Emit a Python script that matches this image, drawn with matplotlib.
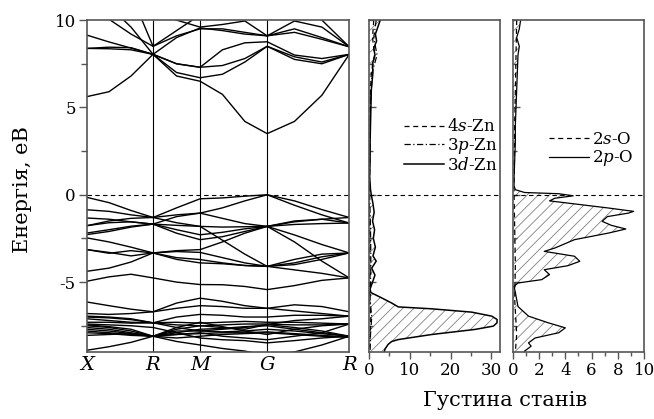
import matplotlib

matplotlib.use("Agg")
import matplotlib.pyplot as plt
from matplotlib.ticker import MultipleLocator

plt.rcParams["font.family"] = "DejaVu Serif"
plt.rcParams["mathtext.fontset"] = "dejavuserif"
plt.rcParams["hatch.linewidth"] = 0.6

# --- band structure -------------------------------------------------------
# cumulative k-path distance of the sampled points, X-R-M-G-R
k_path = [0.0, 0.22, 0.44, 0.66, 0.895, 1.13, 1.353, 1.577, 1.80, 2.073, 2.347, 2.62]
k_labels = ["X", "R", "M", "G", "R"]
k_label_idx = [0, 3, 5, 8, 11]

# conduction bands, eV
cond_bands = [
    [5.62, 5.9, 6.8, 8.04, 6.8, 6.5, 5.75, 4.2, 3.5, 4.2, 5.7, 8.04],
    [8.38, 8.36, 8.3, 8.04, 7.0, 6.7, 6.9, 7.6, 8.5, 7.9, 7.6, 8.04],
    [9.14, 8.75, 8.4, 8.04, 7.5, 7.3, 7.4, 7.8, 8.5, 7.75, 7.5, 8.04],
    [8.38, 8.45, 8.42, 8.04, 7.5, 7.3, 8.3, 8.7, 8.76, 8.0, 7.8, 8.04],
    [11.0, 10.05, 9.2, 8.5, 9.1, 9.5, 9.5, 9.3, 9.1, 9.5, 9.0, 8.47],
    [11.5, 10.8, 9.6, 8.04, 9.0, 9.55, 9.4, 9.2, 9.1, 9.3, 8.9, 8.47],
    [12.0, 11.5, 11.0, 10.5, 10.0, 9.6, 9.75, 9.95, 9.1, 9.95, 9.6, 8.47],
    [12.0, 12.0, 11.5, 8.5, 9.4, 10.3, 10.6, 10.5, 10.3, 10.5, 10.0, 8.47],
]

# O 2p valence bands, eV
val_bands = [
    [-0.15, -0.45, -0.9, -1.3, -0.75, -0.23, -0.18, -0.08, 0.0, -0.35, -0.85, -1.3],
    [-0.86, -0.95, -1.15, -1.3, -1.15, -1.05, -0.75, -0.35, 0.0, -0.6, -1.15, -1.62],
    [-1.33, -1.4, -1.55, -1.68, -1.25, -1.05, -1.35, -1.65, -1.81, -1.55, -1.4, -1.3],
    [-1.77, -1.6, -1.55, -1.68, -1.75, -1.81, -1.85, -1.83, -1.81, -1.5, -1.4, -1.62],
    [-2.19, -2.0, -1.8, -1.68, -2.0, -2.29, -2.15, -1.95, -1.81, -1.7, -1.65, -1.62],
    [-2.28, -2.1, -1.85, -1.68, -2.2, -2.57, -2.4, -2.1, -1.81, -2.3, -2.85, -3.33],
    [-2.47, -2.7, -3.0, -3.33, -3.2, -3.14, -2.7, -2.2, -1.81, -2.7, -3.8, -4.76],
    [-3.14, -3.3, -3.5, -3.33, -3.6, -3.71, -3.9, -4.05, -4.1, -3.9, -3.55, -3.33],
    [-3.14, -3.35, -3.2, -3.33, -3.7, -3.9, -3.95, -4.05, -4.1, -4.3, -4.5, -4.76],
    [-1.77, -1.5, -1.35, -1.3, -1.6, -1.81, -2.6, -3.4, -4.1, -3.7, -3.4, -3.33],
    [-4.95, -4.7, -4.55, -4.76, -5.0, -5.14, -5.15, -5.25, -5.43, -5.2, -4.9, -4.76],
    [-4.38, -4.2, -3.85, -3.33, -3.25, -3.3, -3.6, -3.9, -4.1, -4.0, -3.7, -3.33],
]

# Zn 3d semicore bands, eV
d_bands = [
    [-6.14, -6.35, -6.55, -6.7, -6.2, -5.92, -6.1, -6.35, -6.5, -6.3, -6.4, -6.7],
    [-6.8, -6.85, -6.8, -6.7, -6.5, -6.35, -6.4, -6.5, -6.5, -6.65, -6.8, -6.95],
    [-6.95, -7.0, -7.1, -7.33, -7.0, -6.85, -6.9, -7.0, -7.0, -6.9, -6.9, -6.95],
    [-7.1, -7.2, -7.3, -7.33, -7.3, -7.35, -7.3, -7.25, -7.3, -7.3, -7.35, -7.4],
    [-7.3, -7.3, -7.35, -7.33, -7.45, -7.5, -7.45, -7.4, -7.4, -7.45, -7.45, -7.4],
    [-7.5, -7.6, -7.8, -8.1, -7.7, -7.5, -7.6, -7.7, -7.43, -7.6, -7.8, -8.1],
    [-7.6, -7.7, -7.9, -8.1, -7.9, -7.7, -7.65, -7.55, -7.5, -7.7, -7.9, -8.1],
    [-7.7, -7.8, -7.95, -8.1, -7.8, -7.8, -7.85, -7.8, -7.7, -7.8, -7.95, -8.1],
    [-7.8, -7.9, -8.0, -8.1, -8.0, -7.95, -7.9, -7.9, -7.85, -7.95, -8.05, -8.15],
    [-7.9, -7.95, -8.05, -8.1, -8.2, -8.1, -8.0, -7.95, -7.9, -8.0, -8.1, -8.15],
    [-8.9, -8.7, -8.45, -8.1, -8.4, -8.6, -8.8, -8.95, -9.2, -9.0, -8.6, -8.1],
    [-7.0, -7.05, -7.15, -7.33, -7.6, -7.8, -7.7, -7.6, -7.43, -7.2, -7.1, -6.95],
    [-7.4, -7.45, -7.5, -7.6, -7.9, -8.2, -8.3, -8.35, -8.48, -8.35, -8.2, -8.1],
    [-7.45, -7.55, -7.7, -8.1, -7.6, -7.3, -7.55, -7.8, -8.0, -7.7, -7.5, -7.4],
    [-8.05, -8.0, -7.95, -8.1, -8.0, -7.9, -8.1, -8.2, -8.3, -8.1, -7.9, -7.4],
]

# --- partial DOS ------------------------------------------------------------
zn_d_e = [10.0, 9.6, 9.2, 8.8, 8.4, 8.0, 7.5, 7.0, 6.0, 5.0, 4.0, 3.0, 2.0, 1.0,
          0.3, 0.0, -0.5, -1.0, -1.5, -2.0, -2.5, -3.0, -3.5, -3.8, -4.2, -4.6,
          -5.0, -5.4, -5.6, -5.9, -6.2, -6.42, -6.53, -6.72, -6.95, -7.14, -7.33,
          -7.52, -7.71, -8.0, -8.29, -8.4, -8.57, -8.86, -9.0]
zn_d = [2.8, 2.2, 1.6, 1.9, 1.2, 1.5, 0.9, 1.0, 0.6, 0.5, 0.4, 0.3, 0.3, 0.2,
        0.4, 0.6, 1.0, 1.3, 0.9, 1.4, 1.1, 1.6, 1.0, 1.8, 0.7, 1.5, 0.9, 0.3,
        0.5, 3.1, 5.6, 7.2, 15.4, 25.2, 30.1, 31.4, 31.4, 30.5, 26.0, 15.4,
        7.2, 5.6, 4.7, 3.9, 3.8]
zn_sp_e = [10.0, 9.0, 8.0, 7.0, 6.0, 5.0, 4.0, 3.0, 2.0, 1.0, 0.0, -2.0, -4.0,
           -6.0, -7.0, -8.0, -9.0]
zn_s = [1.2, 0.9, 1.4, 0.6, 0.4, 0.3, 0.3, 0.2, 0.2, 0.1, 0.1, 0.2, 0.3, 0.2,
        0.5, 0.3, 0.2]
zn_p = [1.8, 1.2, 2.0, 0.8, 0.6, 0.4, 0.3, 0.3, 0.2, 0.2, 0.2, 0.4, 0.5, 0.3,
        0.7, 0.4, 0.3]

o_p_e = [10.0, 9.5, 9.0, 8.5, 8.0, 7.0, 6.0, 5.0, 4.0, 3.0, 2.0, 1.0, 0.5,
         0.29, 0.13, 0.06, -0.06, -0.2, -0.35, -0.55, -0.76, -0.95, -1.05,
         -1.25, -1.52, -1.75, -1.96, -2.19, -2.57, -3.05, -3.24, -3.52, -3.81,
         -4.06, -4.29, -4.57, -4.86, -5.05, -5.24, -5.6, -6.0, -6.4, -6.95,
         -7.33, -7.62, -7.9, -8.2, -8.48, -8.67, -8.95, -9.0]
o_p = [0.6, 0.5, 0.3, 0.5, 0.4, 0.35, 0.3, 0.25, 0.2, 0.2, 0.15, 0.1, 0.1,
       0.2, 0.9, 3.5, 4.6, 3.2, 2.8, 5.0, 7.3, 9.2, 8.8, 7.2, 6.8, 7.5, 8.6,
       7.3, 4.7, 3.2, 2.4, 4.7, 5.1, 4.2, 2.4, 2.8, 2.2, 0.4, 0.1, 0.2, 0.3,
       0.4, 1.2, 2.7, 4.0, 3.5, 1.7, 1.2, 1.4, 0.9, 0.9]
o_s_e = [10.0, 8.0, 6.0, 4.0, 2.0, 0.0, -2.0, -4.0, -6.0, -8.0, -9.0]
o_s = [0.3, 0.25, 0.2, 0.15, 0.1, 0.1, 0.15, 0.2, 0.15, 0.3, 0.2]

E_MIN, E_MAX = -9, 10
FRAME = "#555555"

fig = plt.figure(figsize=(6.54, 4.19), dpi=100)
ax_b = fig.add_axes([0.133, 0.160, 0.401, 0.792])
ax_zn = fig.add_axes([0.564, 0.160, 0.201, 0.792])
ax_o = fig.add_axes([0.784, 0.160, 0.201, 0.792])

for band in cond_bands + val_bands + d_bands:
    ax_b.plot(k_path, band, color="black", lw=1.0)
for i in k_label_idx[1:-1]:
    ax_b.axvline(k_path[i], color="black", lw=0.8)
ax_b.set_xlim(k_path[0], k_path[-1])
ax_b.set_ylim(E_MIN, E_MAX)
ax_b.set_xticks([k_path[i] for i in k_label_idx])
ax_b.set_xticklabels(k_labels, fontstyle="italic", fontsize=14)
ax_b.tick_params(axis="x", length=0, pad=3)
ax_b.set_yticks([-5, 0, 5, 10])
ax_b.set_yticklabels(["-5", "0", "5", "10"], fontsize=12)
ax_b.yaxis.set_minor_locator(MultipleLocator(2.5))
ax_b.tick_params(axis="y", which="major", direction="out", length=6, width=1,
                 color=FRAME, pad=2)
ax_b.tick_params(axis="y", which="minor", direction="out", length=4, width=1,
                 color=FRAME)

for ax in (ax_b, ax_zn, ax_o):
    ax.axhline(0, color="black", lw=0.8, ls=(0, (4, 3)))
    for sp in ax.spines.values():
        sp.set_color(FRAME)
        sp.set_linewidth(1.2)

# Zn partial DOS
ax_zn.fill_betweenx(zn_d_e, 0, zn_d, facecolor="white", edgecolor="#808080",
                    hatch="///", linewidth=0)
ax_zn.plot(zn_s, zn_sp_e, color="black", lw=0.9, ls=(0, (4, 3)), label="4$s$-Zn")
ax_zn.plot(zn_p, zn_sp_e, color="black", lw=0.9, ls=(0, (5, 2, 1, 2)), label="3$p$-Zn")
ax_zn.plot(zn_d, zn_d_e, color="black", lw=1.1, label="3$d$-Zn")
ax_zn.set_xlim(0, 32.2)
ax_zn.set_xticks([0, 10, 20, 30])
ax_zn.xaxis.set_minor_locator(MultipleLocator(5))

# O partial DOS
ax_o.fill_betweenx(o_p_e, 0, o_p, facecolor="white", edgecolor="#808080",
                   hatch="///", linewidth=0)
ax_o.plot(o_s, o_s_e, color="black", lw=0.9, ls=(0, (4, 3)), label="2$s$-O")
ax_o.plot(o_p, o_p_e, color="black", lw=0.9, label="2$p$-O")
ax_o.set_xlim(0, 10)
ax_o.set_xticks([0, 2, 4, 6, 8, 10])
ax_o.xaxis.set_minor_locator(MultipleLocator(1))

for ax in (ax_zn, ax_o):
    ax.set_ylim(E_MIN, E_MAX)
    ax.set_yticks([-5, 0, 5])
    ax.yaxis.set_minor_locator(MultipleLocator(2.5))
    ax.tick_params(axis="y", which="both", direction="in", labelleft=False,
                   color=FRAME, width=1)
    ax.tick_params(axis="y", which="major", length=5)
    ax.tick_params(axis="y", which="minor", length=3)
    ax.tick_params(axis="x", which="both", direction="out", labelsize=12,
                   color=FRAME, width=1, pad=2)
    ax.tick_params(axis="x", which="major", length=5)
    ax.tick_params(axis="x", which="minor", length=3)

leg_kw = dict(frameon=False, fontsize=12, handlelength=2.4, handletextpad=0.2,
              labelspacing=0.05, borderpad=0, borderaxespad=0)
ax_zn.legend(loc="center right", bbox_to_anchor=(0.98, 0.62), **leg_kw)
ax_o.legend(loc="center right", bbox_to_anchor=(0.92, 0.61), **leg_kw)

fig.text(0.034, 0.547, "Енергія, eB", rotation=90, ha="center", va="center",
         fontsize=15)
fig.text(0.772, 0.045, "Густина станів", ha="center", va="center", fontsize=15)

fig.savefig("out.png", dpi=100)
